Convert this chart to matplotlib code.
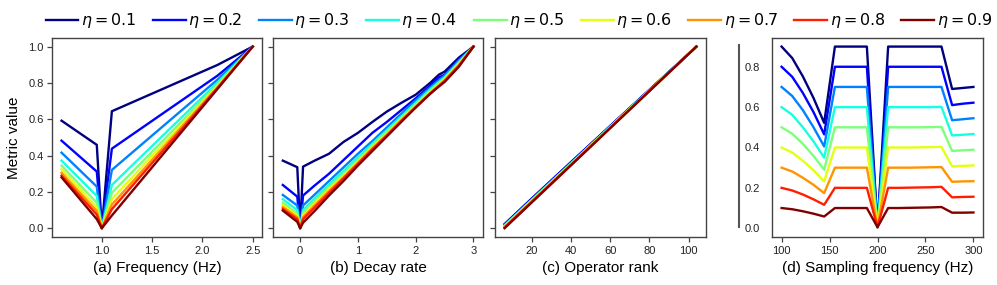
import numpy as np
import matplotlib
matplotlib.use('Agg')
import matplotlib.pyplot as plt

plt.rcParams['font.family'] = ['Liberation Sans', 'DejaVu Sans']

etas = [0.1, 0.2, 0.3, 0.4, 0.5, 0.6, 0.7, 0.8, 0.9]

# (a) frequency
freq = [0.6, 0.95, 1.0, 1.1, 2.15, 2.5]
val_a = [
    [0.592, 0.459, 0.0, 0.644, 0.899, 1.0],
    [0.482, 0.312, 0.0, 0.438, 0.840, 1.0],
    [0.416, 0.229, 0.0, 0.321, 0.818, 1.0],
    [0.372, 0.178, 0.0, 0.238, 0.802, 1.0],
    [0.345, 0.140, 0.0, 0.195, 0.790, 1.0],
    [0.325, 0.115, 0.0, 0.160, 0.783, 1.0],
    [0.305, 0.095, 0.0, 0.130, 0.777, 1.0],
    [0.290, 0.075, 0.0, 0.105, 0.772, 1.0],
    [0.280, 0.050, 0.0, 0.070, 0.767, 1.0],
]

# (b) decay rate
decay = [-0.3, -0.05, 0.0, 0.05, 0.25, 0.5, 0.75, 1.0, 1.25, 1.5, 1.75, 2.0, 2.25, 2.4, 2.5, 2.75, 3.0]
val_b = [
    [0.372, 0.336, 0.0, 0.339, 0.372, 0.410, 0.475, 0.525, 0.585, 0.642, 0.690, 0.735, 0.800, 0.845, 0.862, 0.940, 1.0],
    [0.238, 0.174, 0.0, 0.180, 0.235, 0.300, 0.375, 0.450, 0.525, 0.585, 0.650, 0.715, 0.785, 0.830, 0.845, 0.930, 1.0],
    [0.183, 0.125, 0.0, 0.125, 0.185, 0.260, 0.335, 0.410, 0.480, 0.555, 0.630, 0.705, 0.775, 0.815, 0.840, 0.925, 1.0],
    [0.160, 0.100, 0.0, 0.100, 0.165, 0.240, 0.315, 0.390, 0.465, 0.540, 0.615, 0.690, 0.765, 0.805, 0.830, 0.915, 1.0],
    [0.141, 0.080, 0.0, 0.085, 0.150, 0.225, 0.300, 0.375, 0.455, 0.530, 0.605, 0.680, 0.755, 0.797, 0.825, 0.910, 1.0],
    [0.128, 0.070, 0.0, 0.070, 0.135, 0.215, 0.290, 0.365, 0.445, 0.520, 0.600, 0.675, 0.750, 0.792, 0.820, 0.905, 1.0],
    [0.116, 0.060, 0.0, 0.060, 0.125, 0.205, 0.280, 0.360, 0.440, 0.515, 0.595, 0.670, 0.745, 0.787, 0.815, 0.900, 1.0],
    [0.106, 0.050, 0.0, 0.050, 0.115, 0.195, 0.275, 0.355, 0.435, 0.510, 0.590, 0.665, 0.740, 0.782, 0.810, 0.895, 1.0],
    [0.097, 0.035, 0.0, 0.030, 0.095, 0.180, 0.260, 0.345, 0.425, 0.505, 0.585, 0.665, 0.740, 0.780, 0.805, 0.890, 1.0],
]

# (c) operator rank
rank = [6, 20, 40, 60, 80, 104]
val_c = [
    [0.022, 0.164, 0.364, 0.563, 0.762, 1.0],
    [0.022, 0.164, 0.364, 0.563, 0.762, 1.0],
    [0.017, 0.159, 0.359, 0.560, 0.759, 1.0],
    [0.015, 0.157, 0.357, 0.559, 0.759, 1.0],
    [0.012, 0.154, 0.355, 0.557, 0.758, 1.0],
    [0.010, 0.152, 0.353, 0.556, 0.757, 1.0],
    [0.007, 0.149, 0.351, 0.554, 0.757, 1.0],
    [0.004, 0.146, 0.349, 0.553, 0.756, 1.0],
    [0.000, 0.143, 0.347, 0.551, 0.755, 1.0],
]

# (d) sampling frequency
fs = [100, 111.1, 122.2, 133.3, 144.4, 155.6, 166.7, 177.8, 188.9, 200,
      211.1, 222.2, 233.3, 244.4, 255.6, 266.7, 277.8, 288.9, 300]
val_d = [
    [0.90, 0.843, 0.752, 0.645, 0.522, 0.90, 0.90, 0.90, 0.90, 0.005, 0.90, 0.90, 0.90, 0.90, 0.90, 0.90, 0.690, 0.695, 0.700],
    [0.80, 0.750, 0.670, 0.575, 0.465, 0.80, 0.80, 0.80, 0.80, 0.005, 0.80, 0.80, 0.80, 0.80, 0.80, 0.80, 0.610, 0.617, 0.622],
    [0.70, 0.655, 0.585, 0.500, 0.405, 0.70, 0.70, 0.70, 0.70, 0.005, 0.70, 0.70, 0.70, 0.70, 0.70, 0.70, 0.535, 0.540, 0.545],
    [0.60, 0.562, 0.500, 0.430, 0.350, 0.60, 0.60, 0.60, 0.60, 0.005, 0.60, 0.60, 0.60, 0.60, 0.60, 0.601, 0.460, 0.463, 0.467],
    [0.50, 0.468, 0.418, 0.358, 0.290, 0.50, 0.50, 0.50, 0.50, 0.005, 0.50, 0.50, 0.50, 0.50, 0.501, 0.502, 0.383, 0.386, 0.389],
    [0.40, 0.375, 0.334, 0.287, 0.232, 0.40, 0.40, 0.40, 0.40, 0.005, 0.40, 0.40, 0.40, 0.401, 0.402, 0.403, 0.307, 0.309, 0.311],
    [0.30, 0.281, 0.250, 0.215, 0.174, 0.30, 0.30, 0.30, 0.30, 0.005, 0.30, 0.30, 0.30, 0.301, 0.302, 0.303, 0.230, 0.232, 0.233],
    [0.20, 0.187, 0.167, 0.143, 0.116, 0.20, 0.20, 0.20, 0.20, 0.005, 0.20, 0.20, 0.201, 0.202, 0.203, 0.205, 0.153, 0.155, 0.156],
    [0.10, 0.094, 0.084, 0.072, 0.058, 0.10, 0.10, 0.10, 0.10, 0.005, 0.10, 0.10, 0.101, 0.102, 0.103, 0.105, 0.077, 0.077, 0.078],
]

colors = plt.cm.jet(np.linspace(0, 1, len(etas)))

fig = plt.figure(figsize=(9.97, 2.85), dpi=100)
W, H = 997.0, 285.0
top, bot = 37.5, 237.3
lefts = [52, 273.3, 495, 772]
rights = [262.3, 483, 706, 983]
axes = []
for l, r in zip(lefts, rights):
    axes.append(fig.add_axes([l / W, 1 - bot / H, (r - l) / W, (bot - top) / H]))

xs = [freq, decay, rank, fs]
vals = [val_a, val_b, val_c, val_d]
xlabels = ['(a) Frequency (Hz)', '(b) Decay rate', '(c) Operator rank',
           '(d) Sampling frequency (Hz)']

for k, ax in enumerate(axes):
    for i, eta in enumerate(etas):
        ax.plot(xs[k], vals[k][i], color=colors[i], lw=1.7,
                label=r'$\eta = %.1f$' % eta)
    ax.set_xlabel(xlabels[k], fontsize=11, labelpad=4)
    for s in ax.spines.values():
        s.set_color('#444444')
        s.set_linewidth(1.0)
    ax.tick_params(direction='out', length=3.5, width=0.9, color='#444444',
                   labelsize=8, labelcolor='#222222', pad=2.5)

for ax in axes[:3]:
    ax.set_ylim(-0.05, 1.05)
    ax.set_yticks([0.0, 0.2, 0.4, 0.6, 0.8, 1.0])
axes[1].tick_params(labelleft=False)
axes[2].tick_params(labelleft=False)

axes[0].set_xticks([1.0, 1.5, 2.0, 2.5])
axes[0].set_yticklabels(['0.0', '0.2', '0.4', '0.6', '0.8', '1.0'])
axes[0].set_ylabel('Metric value', fontsize=11, labelpad=5)
axes[1].set_xticks([0, 1, 2, 3])
axes[2].set_xticks([20, 40, 60, 80, 100])
axes[3].set_xticks([100, 150, 200, 250, 300])
axes[3].set_ylim(-0.045, 0.945)
axes[3].set_yticks([0.0, 0.2, 0.4, 0.6, 0.8])
axes[3].set_yticklabels(['0.0', '0.2', '0.4', '0.6', '0.8'])
axes[3].tick_params(axis='y', length=0, pad=9)

# stray vertical rule left of panel (d)
axes[3].plot([-0.156, -0.156], [0.053, 0.962], transform=axes[3].transAxes,
             color='#555555', lw=1.5, clip_on=False)

handles, labels = axes[0].get_legend_handles_labels()
fig.legend(handles, labels, loc='center', bbox_to_anchor=(519 / W, 1 - 21 / H),
           ncol=9, frameon=False, fontsize=11.4, handlelength=2.08,
           handletextpad=0.15, columnspacing=1.04, borderaxespad=0)

fig.savefig('out.png', dpi=100)
